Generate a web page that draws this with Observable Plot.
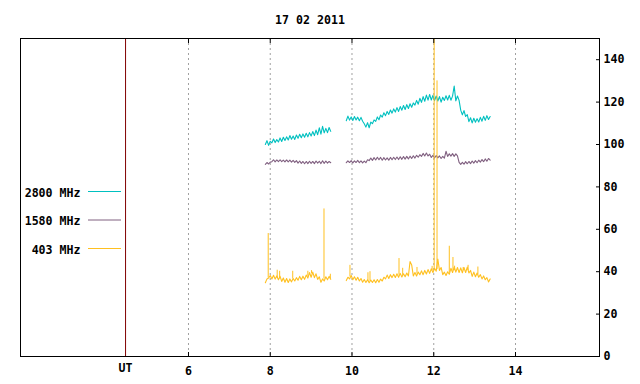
<!DOCTYPE html>
<html><head><meta charset="utf-8">
<script src="https://cdn.jsdelivr.net/npm/d3@7"></script>
<script src="https://cdn.jsdelivr.net/npm/@observablehq/plot@0.6"></script>
<style>
html,body{margin:0;padding:0;background:#fff;}
#chart svg{display:block;}
</style>
</head><body><div id="chart"></div>
<script>
// ---- data ----
const title = "17 02 2011";
const xTicks = [6, 8, 10, 12, 14];
const yTicks = [0, 20, 40, 60, 80, 100, 120, 140];
const utHour = 4.46;
const xDomain = [1.89, 16.055];
const yDomain = [0, 150];

// sampling of the recorded segments (hours UT)
const seg1Start = 7.88, seg2Start = 9.86, step = 0.04;

const names = ["2800 MHz", "1580 MHz", "403 MHz"];
const colors = ["#00c0c0", "#806080", "#ffc020"];

const f2800seg1 = [100.0, 101.8, 99.6, 101.5, 100.8, 102.6, 100.9, 102.3, 101.2, 103.1,
  101.4, 103.4, 101.9, 103.6, 102.1, 104.2, 102.5, 104.0, 102.4, 104.5,
  102.9, 104.8, 103.2, 105.0, 103.4, 105.3, 103.6, 105.6, 104.0, 106.1,
  104.2, 106.8, 104.6, 107.9, 104.9, 108.6, 105.5, 107.6, 105.6, 108.0, 106.2];
const f2800seg2 = [111.2, 113.4, 111.5, 113.0, 111.3, 113.2, 111.6, 112.9, 111.2, 112.8,
  111.0, 109.8, 108.2, 110.3, 107.9, 110.6, 109.8, 111.6, 110.9, 113.0,
  111.7, 113.9, 112.9, 115.0, 113.6, 115.6, 114.2, 116.3, 114.8, 116.8,
  115.3, 117.4, 115.6, 117.9, 116.2, 118.4, 116.5, 118.8, 117.0, 119.2,
  117.6, 119.6, 118.6, 120.8, 119.0, 121.8, 119.9, 122.6, 120.4, 123.3,
  120.9, 123.6, 121.0, 123.2, 120.7, 122.9, 120.5, 122.6, 120.0, 122.3,
  120.8, 123.0, 121.0, 123.2, 120.9, 122.8, 127.6, 120.6, 122.9, 120.8,
  116.2, 114.0, 116.0, 113.2, 114.1, 110.8, 112.6, 110.2, 112.4, 110.5,
  112.2, 110.6, 112.8, 111.0, 113.3, 111.4, 113.6, 111.8, 113.2];

const f1580seg1 = [90.6, 91.5, 90.8, 91.7, 91.9, 92.8, 91.8, 92.7, 91.9, 92.8,
  91.9, 92.6, 91.8, 92.7, 91.8, 92.6, 91.7, 92.5, 91.6, 92.4,
  91.2, 92.2, 91.1, 92.0, 90.9, 92.0, 91.0, 92.1, 91.1, 92.0,
  91.0, 92.2, 91.2, 92.1, 91.0, 92.3, 91.1, 92.2, 91.2, 92.0, 91.4];
const f1580seg2 = [91.4, 92.3, 91.5, 92.4, 91.3, 92.3, 91.5, 92.5, 91.4, 92.3,
  91.3, 92.2, 91.4, 92.8, 92.4, 93.6, 92.5, 93.8, 92.7, 94.0,
  92.8, 93.9, 92.6, 93.8, 92.7, 93.7, 92.6, 93.9, 92.8, 94.0,
  92.9, 94.1, 92.9, 94.2, 93.0, 94.3, 93.1, 94.4, 93.2, 94.5,
  93.4, 94.7, 93.6, 94.9, 94.0, 95.2, 94.4, 95.8, 94.6, 96.0,
  94.6, 95.4, 93.9, 94.9, 93.6, 94.8, 93.7, 94.6, 93.4, 94.4,
  93.6, 96.8, 94.4, 95.6, 94.5, 95.7, 94.4, 95.6, 94.6, 91.6,
  90.6, 91.6, 90.7, 91.9, 90.9, 92.0, 91.0, 92.2, 91.2, 92.4,
  91.4, 92.6, 91.7, 92.9, 91.9, 93.2, 92.1, 93.4, 92.6];

const f403seg1 = [34.8, 36.6, 37.0, 38.2, 36.6, 38.3, 36.5, 38.0, 36.2, 37.8,
  35.4, 37.0, 35.0, 36.8, 34.9, 36.6, 35.2, 36.8, 35.6, 37.2,
  36.0, 37.8, 36.2, 37.9, 36.4, 38.4, 37.0, 39.6, 37.4, 39.8,
  37.2, 39.0, 36.4, 37.6, 35.0, 36.6, 35.6, 37.6, 36.2, 37.8, 36.4];
const f403seg2 = [35.8, 37.4, 36.6, 38.2, 36.2, 37.6, 36.0, 37.4, 35.6, 36.8,
  35.0, 36.3, 34.9, 36.2, 34.8, 36.1, 34.9, 36.2, 34.8, 36.3,
  35.0, 36.5, 35.6, 37.4, 36.6, 38.4, 36.8, 38.6, 37.2, 38.8,
  37.3, 39.0, 37.4, 39.2, 37.5, 39.0, 37.6, 39.4, 38.0, 44.8,
  43.2, 38.0, 39.6, 38.0, 39.8, 38.6, 40.4, 38.6, 40.6, 38.9,
  41.0, 39.2, 41.4, 39.6, 41.6, 40.2, 46.0, 40.6, 42.0, 38.6,
  39.8, 38.2, 40.0, 38.8, 41.6, 39.6, 42.2, 39.8, 42.0, 39.6,
  41.8, 39.5, 42.0, 39.6, 42.2, 39.4, 40.6, 37.8, 39.8, 37.6,
  39.4, 37.4, 38.6, 36.6, 38.0, 36.2, 37.2, 35.2, 36.6];

// short bursts on 403 MHz
const burstTimes = [7.95, 8.17, 8.23, 8.55, 8.92, 9.01, 9.315, 9.47,
  9.95, 10.39, 10.44, 11.15, 11.24, 11.59, 11.96, 12.01, 12.08, 12.38, 12.47, 12.51, 12.72, 12.84, 13.08];
const burstPeaks = [58.0, 40.7, 40.2, 40.2, 40.2, 40.5, 69.6, 38.8,
  43.0, 39.5, 40.0, 46.2, 41.6, 42.0, 42.5, 150, 130, 52.0, 46.7, 42.6, 42.0, 43.0, 42.2];
const burstBases = [37.0, 37.0, 36.6, 36.6, 37.8, 39.0, 36.5, 36.6,
  37.5, 35.5, 35.5, 38.3, 38.3, 38.8, 40.5, 40.5, 41.0, 39.5, 40.5, 40.5, 40.5, 40.5, 38.5];

// ---- build tables ----
function rowsOf(name, start, vals, seg) {
  return vals.map((v, i) => ({name, seg, t: start + i * step, v}));
}
const s2800 = [...rowsOf(names[0], seg1Start, f2800seg1, 1), ...rowsOf(names[0], seg2Start, f2800seg2, 2)];
const s1580 = [...rowsOf(names[1], seg1Start, f1580seg1, 1), ...rowsOf(names[1], seg2Start, f1580seg2, 2)];
const s403 = [...rowsOf(names[2], seg1Start, f403seg1, 1), ...rowsOf(names[2], seg2Start, f403seg2, 2)];
const bursts = burstTimes.map((t, i) => ({t, y1: burstBases[i], y2: burstPeaks[i]}));

const font = "'DejaVu Sans Mono', 'Liberation Mono', monospace";

const chart = Plot.plot({
  width: 640,
  height: 384,
  marginLeft: 20,
  marginRight: 41,
  marginTop: 38,
  marginBottom: 28,
  style: {fontFamily: font, fontSize: "11.6px", fontWeight: "bold", background: "#fff", color: "#000"},
  x: {domain: xDomain, label: null},
  y: {domain: yDomain, label: null},
  marks: [
    Plot.gridX(xTicks, {stroke: "#a0a0a0", strokeOpacity: 1, strokeDasharray: "2,3"}),
    Plot.ruleX([utHour], {stroke: "#800000", strokeWidth: 1}),
    Plot.line(s2800, {x: "t", y: "v", z: "seg", stroke: colors[0], strokeWidth: 1.1}),
    Plot.line(s1580, {x: "t", y: "v", z: "seg", stroke: colors[1], strokeWidth: 1.1}),
    Plot.ruleX(bursts, {x: "t", y1: "y1", y2: "y2", stroke: colors[2], strokeWidth: 1}),
    Plot.line(s403, {x: "t", y: "v", z: "seg", stroke: colors[2], strokeWidth: 1.1}),
    Plot.frame({stroke: "#000", strokeWidth: 1}),
    Plot.axisX(xTicks, {anchor: "bottom", tickSize: -4, tickPadding: 14, label: null, stroke: "#000"}),
    Plot.axisX(xTicks, {anchor: "top", tickSize: -4, tickFormat: () => "", label: null, stroke: "#000"}),
    Plot.axisY(yTicks, {anchor: "right", tickSize: -4, tickPadding: 8, label: null, stroke: "#000"}),
    Plot.text([utHour], {x: d => d, text: () => "UT", frameAnchor: "bottom", lineAnchor: "top", dy: 7, fill: "#000"}),
    Plot.text([title], {text: d => d, frameAnchor: "top", lineAnchor: "top", dy: -23, fill: "#000"})
  ]
});

// legend, drawn inside the frame on the left
const svg = d3.select(chart);
const lg = svg.append("g").attr("font-family", font).attr("font-size", "11.6px").attr("font-weight", "bold");
names.forEach((n, i) => {
  const yb = 196.5 + i * 28.5;
  lg.append("text").attr("x", 80.5).attr("y", yb).attr("text-anchor", "end").attr("fill", "#000").text(n);
  lg.append("line").attr("x1", 88).attr("x2", 121).attr("y1", yb - 5).attr("y2", yb - 5)
    .attr("stroke", colors[i]).attr("stroke-width", 1);
});

document.getElementById("chart").appendChild(chart);
</script>
</body></html>
